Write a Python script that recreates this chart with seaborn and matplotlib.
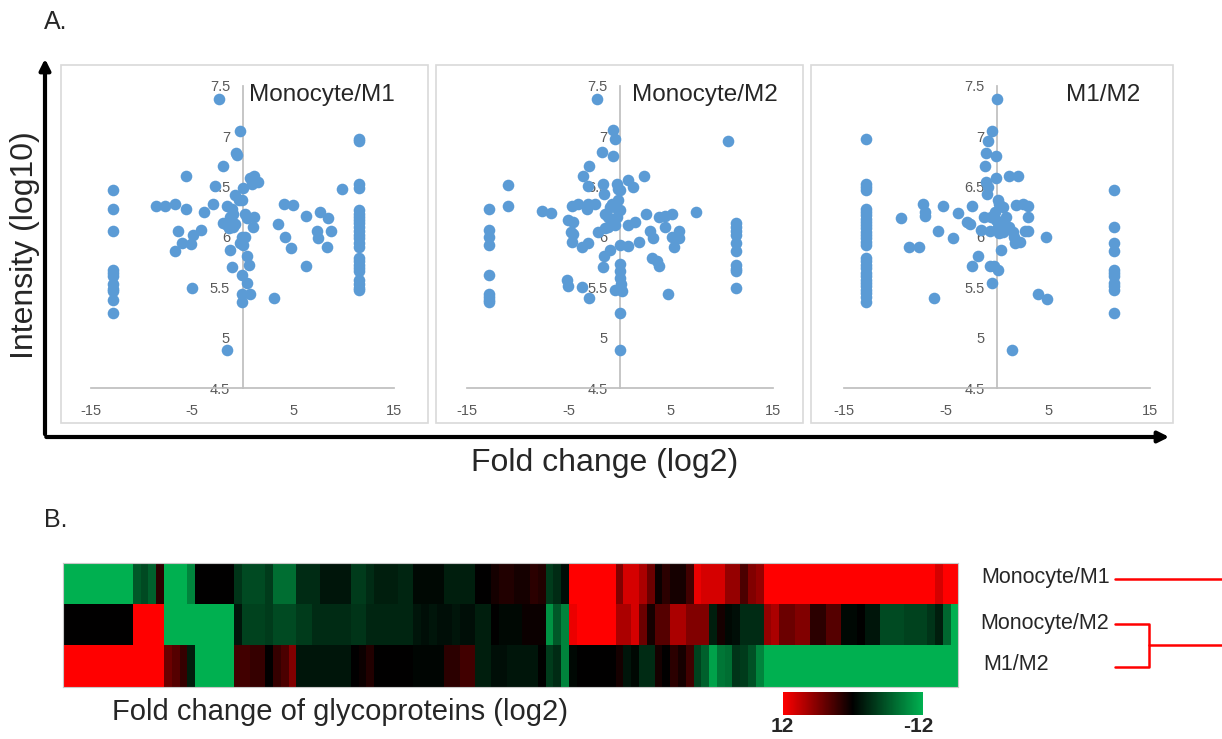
import numpy as np
import pandas as pd
import matplotlib
matplotlib.use("Agg")
import matplotlib.pyplot as plt
import seaborn as sns
from matplotlib.colors import LinearSegmentedColormap, Normalize
from matplotlib.cm import ScalarMappable
from matplotlib.patches import Rectangle, FancyArrowPatch

# ---- data: (fold change log2, intensity log10) per comparison ----
mono_m1_points = [
    (-12.8, 6.47), (-12.8, 6.28), (-12.8, 6.06), (-12.8, 5.67), (-12.8, 5.64), (-12.8, 5.61),
    (-12.8, 5.53), (-12.8, 5.48), (-12.8, 5.46), (-12.8, 5.38), (-12.8, 5.25),
    (11.5, 6.97), (11.5, 6.95), (11.5, 6.53), (11.5, 6.49), (11.5, 6.27), (11.5, 6.23),
    (11.5, 6.20), (11.5, 6.17), (11.5, 6.14), (11.5, 6.10), (11.5, 6.06), (11.5, 6.02),
    (11.5, 5.99), (11.5, 5.94), (11.5, 5.90), (11.5, 5.79), (11.5, 5.76), (11.5, 5.72),
    (11.5, 5.69), (11.5, 5.66), (11.5, 5.57), (11.5, 5.53), (11.5, 5.49), (11.5, 5.47),
    (-2.3, 7.37), (-0.2, 7.05), (-0.66, 6.83), (-0.5, 6.81), (-1.9, 6.70), (-5.6, 6.60),
    (0.03, 6.49), (0.76, 6.58), (1.18, 6.60), (1.58, 6.55), (0.92, 6.53), (-2.76, 6.51),
    (-8.55, 6.31), (-7.7, 6.31), (-6.64, 6.33), (-5.6, 6.28), (-2.93, 6.33), (-3.78, 6.25),
    (-0.72, 6.42), (-0.39, 6.37), (-0.07, 6.37), (-1.55, 6.31), (-1.05, 6.28), (-0.89, 6.23),
    (-1.22, 6.20), (-1.88, 6.14), (-1.55, 6.12), (-1.05, 6.15), (-1.38, 6.09), (-0.89, 6.10),
    (-0.72, 6.13), (0.2, 6.23), (0.43, 6.19), (1.09, 6.20), (1.02, 6.10), (-6.41, 6.06),
    (-5.99, 5.94), (-5.1, 5.93), (-4.9, 6.02), (-4.1, 6.07), (-6.64, 5.86), (-1.22, 5.87),
    (-0.07, 6.00), (0.26, 6.00), (-0.23, 5.94), (0.03, 5.92), (-1.05, 5.70), (0.43, 5.81),
    (0.66, 5.72), (-0.07, 5.62), (0.43, 5.54), (-5.0, 5.49), (-0.07, 5.43), (0.76, 5.43),
    (-0.07, 5.36), (3.16, 5.40), (-1.55, 4.88), (3.49, 6.13), (4.11, 6.33), (5.03, 6.32),
    (4.2, 6.00), (4.8, 5.89), (6.25, 5.71), (6.28, 6.21), (7.66, 6.25), (8.49, 6.19),
    (7.34, 6.06), (7.5, 5.99), (8.75, 6.06), (8.39, 5.90), (9.87, 6.48),
]

mono_m2_points = [
    (-12.9, 6.28), (-12.9, 6.07), (-12.9, 6.00), (-12.9, 5.92), (-12.9, 5.62), (-12.9, 5.43),
    (-12.9, 5.41), (-12.9, 5.38), (-12.9, 5.36), (-11.0, 6.52), (-11.0, 6.31),
    (11.44, 6.14), (11.44, 6.10), (11.44, 6.06), (11.44, 6.02), (11.44, 5.94), (11.44, 5.86),
    (11.44, 5.72), (11.44, 5.68), (11.44, 5.66), (11.44, 5.49),
    (-2.3, 7.37), (-0.66, 7.06), (-0.49, 6.97), (-1.74, 6.84), (-0.66, 6.80), (-3.05, 6.70),
    (-3.67, 6.60), (-3.11, 6.51), (-1.7, 6.53), (-1.57, 6.43), (-0.33, 6.53), (-0.23, 6.48),
    (0.0, 6.47), (0.75, 6.57), (1.31, 6.50), (2.39, 6.60), (-7.64, 6.26), (-6.82, 6.24),
    (-4.75, 6.31), (-4.16, 6.33), (-3.28, 6.28), (-3.11, 6.33), (-2.46, 6.33), (-5.08, 6.17),
    (-4.59, 6.15), (-4.85, 6.05), (-4.59, 6.03), (-4.75, 5.95), (-3.77, 5.90), (-3.18, 5.94),
    (-2.13, 6.05), (-1.48, 6.23), (-1.15, 6.20), (-0.98, 6.30), (-0.82, 6.33), (-0.49, 6.30),
    (-0.16, 6.37), (0.0, 6.27), (-0.66, 6.17), (-0.49, 6.12), (-0.33, 6.20), (-1.15, 6.10),
    (-1.48, 6.09), (0.75, 6.12), (1.48, 6.15), (2.56, 6.23), (2.95, 6.06), (3.28, 5.99),
    (3.84, 6.20), (4.43, 6.21), (5.08, 6.23), (4.38, 6.10), (5.08, 6.00), (5.8, 6.06),
    (5.84, 5.99), (5.34, 5.90), (7.48, 6.25), (10.56, 6.95), (0.0, 5.92), (0.82, 5.91),
    (1.87, 5.95), (-0.98, 5.87), (-1.54, 5.81), (-1.7, 5.70), (0.0, 5.73), (0.0, 5.66),
    (0.0, 5.59), (0.1, 5.53), (0.0, 5.49), (-0.49, 5.47), (0.16, 5.46), (3.11, 5.79),
    (3.61, 5.76), (3.84, 5.71), (-5.25, 5.57), (-5.15, 5.51), (-3.77, 5.50), (-3.02, 5.40),
    (4.69, 5.43), (0.0, 5.25), (0.0, 4.88),
]

m1_m2_points = [
    (-12.9, 6.97), (-12.9, 6.53), (-12.9, 6.50), (-12.9, 6.47), (-12.9, 6.28), (-12.9, 6.25),
    (-12.9, 6.22), (-12.9, 6.18), (-12.9, 6.15), (-12.9, 6.12), (-12.9, 6.09), (-12.9, 6.05),
    (-12.9, 6.02), (-12.9, 5.99), (-12.9, 5.95), (-12.9, 5.92), (-12.9, 5.79), (-12.9, 5.76),
    (-12.9, 5.72), (-12.9, 5.69), (-12.9, 5.64), (-12.9, 5.61), (-12.9, 5.57), (-12.9, 5.54),
    (-12.9, 5.51), (-12.9, 5.47), (-12.9, 5.44), (-12.9, 5.41), (-12.9, 5.36),
    (11.5, 6.47), (11.5, 6.10), (11.5, 5.94), (11.5, 5.86), (11.5, 5.67), (11.5, 5.64),
    (11.5, 5.61), (11.5, 5.54), (11.5, 5.51), (11.5, 5.47), (11.5, 5.25),
    (0.0, 7.37), (-0.49, 7.05), (-0.85, 6.95), (-1.08, 6.83), (-0.16, 6.80), (-1.18, 6.70),
    (-1.08, 6.55), (-0.85, 6.50), (-0.98, 6.43), (-0.1, 6.58), (1.21, 6.60), (2.03, 6.60),
    (-9.44, 6.19), (-8.62, 5.90), (-7.7, 5.90), (-7.3, 6.33), (-7.05, 6.25), (-7.05, 6.21),
    (-5.34, 6.31), (-5.84, 6.06), (-4.3, 5.99), (-3.87, 6.24), (-2.98, 6.15), (-2.66, 6.13),
    (-2.49, 6.31), (-1.9, 5.81), (-2.49, 5.71), (-6.23, 5.40), (-1.25, 6.20), (-1.57, 6.07),
    (-0.75, 6.06), (-0.59, 6.20), (-0.26, 6.25), (0.07, 6.37), (0.23, 6.33), (0.56, 6.30),
    (-0.1, 6.17), (0.39, 6.14), (0.89, 6.20), (0.23, 6.04), (0.56, 6.05), (1.21, 6.10),
    (0.07, 6.10), (1.54, 6.05), (1.61, 6.00), (1.8, 5.94), (2.2, 5.95), (1.87, 6.32),
    (2.52, 6.33), (3.02, 6.31), (3.02, 6.20), (2.69, 6.06), (3.02, 6.06), (0.39, 5.87),
    (-0.75, 5.71), (-0.33, 5.71), (0.07, 5.67), (-0.52, 5.54), (4.75, 6.00), (4.0, 5.43),
    (4.89, 5.39), (1.44, 4.88),
]

panel_titles = ["Monocyte/M1", "Monocyte/M2", "M1/M2"]
x_ticks = [-15, -5, 5, 15]
y_ticks = [4.5, 5, 5.5, 6, 6.5, 7, 7.5]
y_tick_labels = ["4.5", "5", "5.5", "6", "6.5", "7", "7.5"]

# ---- heatmap: fold change of glycoproteins (log2), one value per protein ----
row_labels = ["Monocyte/M1", "Monocyte/M2", "M1/M2"]
fc_mono_m1 = [
    -12, -12, -12, -12, -12, -12, -12, -12, -12, -6, -5, -6.5, 2, -12, -12, -12, -9,
    0, 0, 0, 0, 0, -3.5, -5, -5, -5, -4, -7.5, -7.5, -7.5,
    -3, -3, -3, -1.5, -1.5, -1.5, -1.5, -4, -4, -3, -2, -2, -2, -2.5, -2.5,
    -0.5, -0.5, -0.5, -0.5, -2, -2, -2, -2, 0, 0,
    1, 1.5, 1.5, 1, 1, 2, 1.5, -4, -3, -1, 12, 12, 12, 12, 12, 12, 6, 10, 10, 8, 5,
    0.5, 2, 1, 1, 3, 11, 10, 10, 10, 7,
    7, 3.5, 6, 7, 12, 12, 12, 12, 12, 12, 12, 12, 12, 12, 12, 12, 12, 12, 12, 12,
    12, 12, 12, 12, 12, 12, 10, 12, 12,
]
fc_mono_m2 = [
    0, 0, 0, 0, 0, 0, 0, 0, 0, 12, 12, 12, 12, -12, -12, -12, -12, -12, -12, -12, -12, -12,
    -1.5, -4.5, -4.5, -4.5, -4, -5, -5, -5,
    -4, -4, -3, -3, -3, -3, -3, -3.5, -3.5, -2.5, -2.5, -2.5, -2.5, -2.5, -2.5,
    -1.5, -1, -1.5, -1, -1, -1.5, -1, -1, -2, -2,
    0, -0.5, -0.5, -0.5, 0.5, 0.5, 0.5, -10, -6, -9, 11, 12, 12, 12, 12, 12, 8, 8, 10, 5,
    1, 4, 4, 8, 8, 6, 6, 6, -2, 1, -0.5,
    -1, -3, -3, -3, 7, 8, 5, 5, 6, 6, 2, 2, 4, 4, -0.5, -0.5, 0, -1.5, -1.5,
    -5, -5, -5, -4.5, -4.5, -4.5, -3.5, -2, -7, -12,
]
fc_m1_m2 = [
    12, 12, 12, 12, 12, 12, 12, 12, 12, 12, 12, 12, 12, 5, 4, 2.5, -2,
    -12, -12, -12, -12, -12, 3, 3, 2.5, 2.5, 0, 2.5, 3.5, 6,
    -1.5, -1.5, -1.5, -1.5, -1.5, -1.5, -1.5, 0, 0.5, 1.5, 0, 0, 0, 0, 0,
    -0.3, -0.3, -0.3, -0.3, 2, 2, 3, 3, -2, -2,
    -1, -1, -1.5, -1.5, -1.5, -1.5, 0, -4, -3, -9, -0.5, 0, 0, 0, 0, 0, 1, -1.5, -0.5,
    -3, -3, 1, 0, 2, 1, 3, -4.5, -6.5, -11, -8, -7.5,
    -3.5, -4, -5.5, -9, -12, -12, -12, -12, -12, -12, -12, -12, -12, -12, -12, -12, -12,
    -12, -12, -12, -12, -12, -12, -12, -12, -12, -12, -12, -12,
]

W, H = 1222, 739
sns.set_theme(style="white")
plt.rcParams['font.family'] = ['Liberation Sans', 'DejaVu Sans']
plt.rcParams['axes.unicode_minus'] = False

fig = plt.figure(figsize=(W / 100, H / 100), dpi=100)


def px_rect(x0, y0, x1, y1):
    # pixel box (top-left origin) -> figure fraction
    return [x0 / W, 1 - y1 / H, (x1 - x0) / W, (y1 - y0) / H]


blue = "#5B9BD5"
axis_gray = "#BFBFBF"
label_gray = "#595959"

# ---- panel A: three scatter plots ----
frames = [(61, 65, 428, 423), (436, 65, 803, 423), (811, 65, 1173, 423)]
plot_areas = [(90.7, 85.7, 394.3, 388.3), (467.3, 85.7, 772.7, 388.3), (844.3, 85.7, 1150, 388.3)]
title_pos = [(249, 95), (632, 95), (1066, 95)]

for points, title, frame, area, tpos in zip(
        [mono_m1_points, mono_m2_points, m1_m2_points], panel_titles, frames, plot_areas, title_pos):
    fig.add_artist(Rectangle((frame[0] / W, 1 - frame[3] / H), (frame[2] - frame[0]) / W,
                             (frame[3] - frame[1]) / H, transform=fig.transFigure,
                             fill=False, edgecolor="#D9D9D9", linewidth=1.2))
    df = pd.DataFrame(points, columns=["fold_change", "intensity"])
    ax = fig.add_axes(px_rect(*area))
    sns.scatterplot(data=df, x="fold_change", y="intensity", ax=ax, color=blue,
                    s=70, linewidth=0, clip_on=False, zorder=3)
    ax.set_xlim(-15, 15)
    ax.set_ylim(4.5, 7.5)
    ax.set_xticks(x_ticks)
    ax.set_yticks(y_ticks)
    ax.set_yticklabels(y_tick_labels)
    ax.set_xlabel("")
    ax.set_ylabel("")
    ax.patch.set_alpha(0)
    for side in ["top", "right"]:
        ax.spines[side].set_visible(False)
    ax.spines["left"].set_position(("data", 0))
    ax.spines["left"].set_color(axis_gray)
    ax.spines["bottom"].set_color(axis_gray)
    ax.spines["left"].set_zorder(1)
    ax.tick_params(axis="both", length=0, labelsize=10.5, labelcolor=label_gray)
    ax.tick_params(axis="x", pad=11)
    ax.tick_params(axis="y", pad=9)
    fig.text(tpos[0] / W, 1 - tpos[1] / H, title, fontsize=17.5, ha="left", va="center")

# big axis arrows
fig.add_artist(FancyArrowPatch((45 / W, 1 - 437 / H), (45 / W, 1 - 56 / H), transform=fig.transFigure,
                               arrowstyle="-|>", mutation_scale=16, linewidth=3, color="black"))
fig.add_artist(FancyArrowPatch((43.5 / W, 1 - 437 / H), (1172 / W, 1 - 437 / H), transform=fig.transFigure,
                               arrowstyle="-|>", mutation_scale=16, linewidth=3, color="black"))

fig.text(25 / W, 1 - 245 / H, "Intensity (log10)", rotation=90, fontsize=23, ha="center", va="center")
fig.text(605 / W, 1 - 463 / H, "Fold change (log2)", fontsize=23, ha="center", va="center")
fig.text(44 / W, 1 - 22 / H, "A.", fontsize=18, ha="left", va="center")
fig.text(44 / W, 1 - 520 / H, "B.", fontsize=18, ha="left", va="center")

# ---- panel B: heatmap ----
heat = pd.DataFrame([fc_mono_m1, fc_mono_m2, fc_m1_m2], index=row_labels)
cmap = LinearSegmentedColormap.from_list("red_black_green", ["#00B050", "#000000", "#FF0000"])
hax = fig.add_axes(px_rect(62.7, 563, 958.3, 686.5))
sns.heatmap(heat, ax=hax, cmap=cmap, vmin=-12, vmax=12, cbar=False,
            xticklabels=False, yticklabels=False)
for side in hax.spines.values():
    side.set_visible(True)
    side.set_color("#C8C8C8")
    side.set_linewidth(0.8)

fig.text(112 / W, 1 - 712 / H, "Fold change of glycoproteins (log2)", fontsize=21, ha="left", va="center")

# colour key
cax = fig.add_axes(px_rect(782.7, 691.7, 922.7, 715))
cb = fig.colorbar(ScalarMappable(norm=Normalize(-12, 12), cmap=cmap), cax=cax, orientation="horizontal")
cax.invert_xaxis()
cb.set_ticks([])
cb.outline.set_visible(False)
fig.text(782.5 / W, 1 - 727 / H, "12", fontsize=15, fontweight="bold", ha="center", va="center")
fig.text(918 / W, 1 - 727 / H, "-12", fontsize=15, fontweight="bold", ha="center", va="center")

# row labels and dendrogram
ov = fig.add_axes([0, 0, 1, 1], zorder=-1)
ov.set_xlim(0, W)
ov.set_ylim(H, 0)
ov.axis("off")
for label, (lx, ly) in zip(row_labels, [(981, 578), (980, 624), (983, 665)]):
    ov.text(lx, ly, label, fontsize=15.5, ha="left", va="center")
red = "#FF0000"
ov.plot([1115, 1222], [579, 579], color=red, lw=1.8)
ov.plot([1115, 1149.3, 1149.3, 1115], [624, 624, 667.3, 667.3], color=red, lw=1.8)
ov.plot([1149.3, 1222], [645, 645], color=red, lw=1.8)

fig.savefig("out.png", dpi=100)
